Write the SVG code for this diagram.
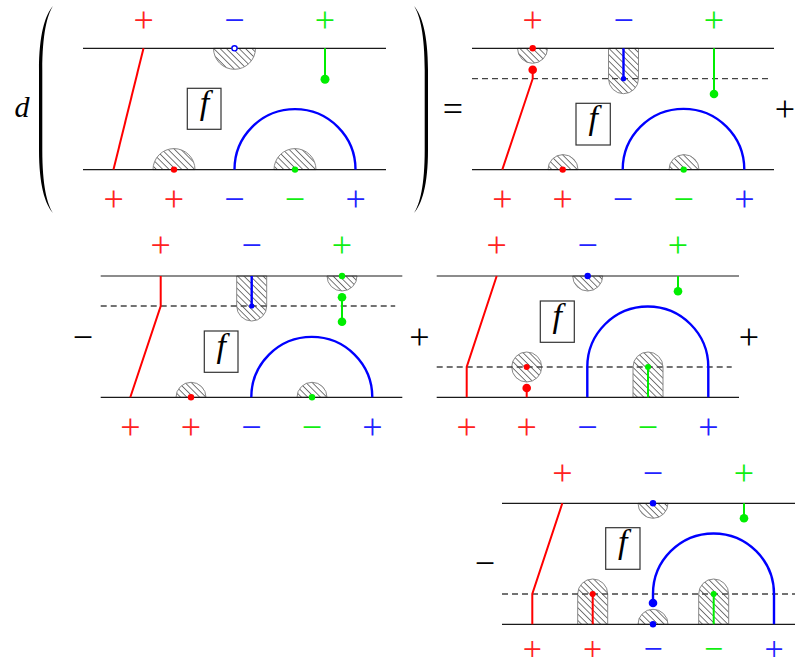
<svg xmlns="http://www.w3.org/2000/svg" width="795" height="668" viewBox="0 0 795 668">
<defs>
<pattern id="hatch" patternUnits="userSpaceOnUse" width="4.5" height="4.5" patternTransform="rotate(45)">
<rect width="4.5" height="4.5" fill="#fff"/>
<line x1="0" y1="2.25" x2="4.5" y2="2.25" stroke="#6a6a6a" stroke-width="0.9"/>
</pattern>
<style>
.hl{stroke:#1a1a1a;stroke-width:1.2;fill:none}
.dash{stroke:#444;stroke-width:1.3;stroke-dasharray:6 4;fill:none}
.h{fill:url(#hatch);stroke:#888;stroke-width:1}
.r{stroke:#f00;stroke-width:2;fill:none}
.b{stroke:#00f;stroke-width:2.4;fill:none}
.g{stroke:#0e0;stroke-width:2;fill:none}
.rd{fill:#f00}.bd{fill:#00f}.gd{fill:#0e0}
.box{fill:#fff;stroke:#333;stroke-width:1.2}
.lab{font-family:"Liberation Serif","Times New Roman",serif;font-size:36px;text-anchor:middle}
.sm{font-size:34px}
.fx{font-family:"Liberation Serif","Times New Roman",serif;font-style:italic;font-size:34px;text-anchor:middle}
.dx{font-family:"Liberation Serif","Times New Roman",serif;font-style:italic;font-size:30px;text-anchor:middle}
.lr{fill:#f22}.lb{fill:#22f}.lg{fill:#1e1}.lk{fill:#000}
</style>
</defs>
<rect width="795" height="668" fill="#fff"/>

<g id="prefix">
<text class="dx" x="22" y="117">d</text>
<path d="M53,6 C45,15 39,35 39,70 L39,150 C39,185 45,204 53,213 C47,204 42.3,185 42.3,150 L42.3,70 C42.3,35 47,15 53,6 Z" fill="#000"/>
<path d="M414,6 C422,15 428,35 428,70 L428,150 C428,185 422,204 414,213 C420,204 424.7,185 424.7,150 L424.7,70 C424.7,35 420,15 414,6 Z" fill="#000"/>
<text class="lab lk" x="453" y="121.4">=</text>
<text class="lab lk" x="785" y="121.4">+</text>
<text class="lab lk" x="83" y="349.1">−</text>
<text class="lab lk" x="419.5" y="349.1">+</text>
<text class="lab lk" x="749" y="349.1">+</text>
<text class="lab lk" x="485" y="575.4">−</text>
</g>

<!-- Panel 1 -->
<g id="panel1" transform="translate(83,48.3)">
<path class="h" d="M130.5,0 A21,21 0 0 0 172.5,0 Z"/>
<path class="h" d="M70,121.3 A21,21 0 0 1 112,121.3 Z"/>
<path class="h" d="M191,121.3 A21,21 0 0 1 233,121.3 Z"/>
<line class="hl" x1="0" y1="0" x2="303" y2="0"/>
<line class="hl" x1="0" y1="121.3" x2="303" y2="121.3"/>
<g id="p1-edges">
<line class="r" x1="60.5" y1="0" x2="30.5" y2="121.3"/>
<line class="g" x1="242" y1="0" x2="242" y2="31"/>
<path class="b" d="M151.5,121.3 A60.5,60.5 0 0 1 272.5,121.3"/>
</g>
<circle cx="151.5" cy="0" r="2.6" fill="#fff" stroke="#00f" stroke-width="1.4"/>
<circle class="gd" cx="242" cy="31" r="4.5"/>
<circle class="rd" cx="91" cy="121.3" r="3.2"/>
<circle class="gd" cx="212" cy="121.3" r="3.2"/>
<rect class="box" x="104.3" y="40" width="33.7" height="41"/>
<text class="fx" x="121.5" y="65.6">f</text>
<text class="lab lr" x="60.7" y="-16">+</text>
<text class="lab lb" x="151.3" y="-16">−</text>
<text class="lab lg" x="242" y="-16">+</text>
<text class="lab lr" x="30.7" y="163.1">+</text>
<text class="lab lr" x="91" y="163.1">+</text>
<text class="lab lb" x="151.3" y="163.1">−</text>
<text class="lab lg" x="212" y="163.1">−</text>
<text class="lab lb" x="272.7" y="163.1">+</text>
</g>

<!-- Panel 2 -->
<g id="panel2" transform="translate(472,48.3)">
<path class="h" d="M45.5,0 A15,15 0 0 0 75.5,0 Z"/>
<path class="h" d="M136.5,0 V30.4 A15,15 0 0 0 166.5,30.4 V0 Z"/>
<path class="h" d="M76,121.3 A15,15 0 0 1 106,121.3 Z"/>
<path class="h" d="M197,121.3 A15,15 0 0 1 227,121.3 Z"/>
<line class="hl" x1="0" y1="0" x2="302" y2="0"/>
<line class="hl" x1="0" y1="121.3" x2="302" y2="121.3"/>
<line class="dash" x1="0" y1="30.4" x2="296" y2="30.4"/>
<g id="p2-edges">
<polyline class="r" points="60.7,21.4 60.7,30.4 30.3,121.3"/>
<line class="b" x1="151.5" y1="0" x2="151.5" y2="30.4"/>
<line class="g" x1="242" y1="0" x2="242" y2="45.7"/>
<path class="b" d="M150.7,121.3 A60.8,60.8 0 0 1 272.3,121.3"/>
</g>
<circle class="rd" cx="60.7" cy="0" r="3.2"/>
<circle class="rd" cx="60.7" cy="21.4" r="4.3"/>
<circle class="bd" cx="151.5" cy="30.4" r="2.6"/>
<circle class="gd" cx="242" cy="45.7" r="4.3"/>
<circle class="rd" cx="90.7" cy="121.3" r="3.2"/>
<circle class="gd" cx="211.7" cy="121.3" r="3.2"/>
<rect class="box" x="104" y="55" width="34.3" height="41.7"/>
<text class="fx" x="121.2" y="80.6">f</text>
<text class="lab lr" x="60.7" y="-16">+</text>
<text class="lab lb" x="151.7" y="-16">−</text>
<text class="lab lg" x="242" y="-16">+</text>
<text class="lab lr" x="30.3" y="163.1">+</text>
<text class="lab lr" x="90.7" y="163.1">+</text>
<text class="lab lb" x="151" y="163.1">−</text>
<text class="lab lg" x="211.7" y="163.1">−</text>
<text class="lab lb" x="272.3" y="163.1">+</text>
</g>

<!-- Panel 3 -->
<g id="panel3" transform="translate(100.7,276)">
<path class="h" d="M136,0 V30 A15,15 0 0 0 166,30 V0 Z"/>
<path class="h" d="M226.3,0 A15,15 0 0 0 256.3,0 Z"/>
<path class="h" d="M75.3,121.3 A15,15 0 0 1 105.3,121.3 Z"/>
<path class="h" d="M196.3,121.3 A15,15 0 0 1 226.3,121.3 Z"/>
<line class="hl" x1="0" y1="0" x2="301.6" y2="0"/>
<line class="hl" x1="0" y1="121.3" x2="301.6" y2="121.3"/>
<line class="dash" x1="0" y1="30" x2="294.5" y2="30"/>
<g id="p3-edges">
<polyline class="r" points="60,0 60,30 29.6,121.3"/>
<line class="b" x1="151" y1="0" x2="151" y2="30"/>
<line class="g" x1="241.3" y1="21.3" x2="241.3" y2="45.7"/>
<path class="b" d="M150.6,121.3 A60.5,60.5 0 0 1 271.6,121.3"/>
</g>
<circle class="bd" cx="151" cy="30" r="2.6"/>
<circle class="gd" cx="241.3" cy="0" r="3.2"/>
<circle class="gd" cx="241.3" cy="21.3" r="4.3"/>
<circle class="gd" cx="241.3" cy="45.7" r="4.3"/>
<circle class="rd" cx="90.3" cy="121.3" r="3.2"/>
<circle class="gd" cx="211.3" cy="121.3" r="3.2"/>
<rect class="box" x="103.6" y="55" width="33.7" height="41.3"/>
<text class="fx" x="120.5" y="80.6">f</text>
<text class="lab lr" x="60" y="-18.6">+</text>
<text class="lab lb" x="151" y="-18.6">−</text>
<text class="lab lg" x="241.3" y="-18.6">+</text>
<text class="lab lr" x="29.6" y="162.7">+</text>
<text class="lab lr" x="90.3" y="162.7">+</text>
<text class="lab lb" x="150.6" y="162.7">−</text>
<text class="lab lg" x="211.3" y="162.7">−</text>
<text class="lab lb" x="271.6" y="162.7">+</text>
</g>

<!-- Panel 4 -->
<g id="panel4" transform="translate(436.7,276)">
<path class="h" d="M136,0 A15,15 0 0 0 166,0 Z"/>
<circle class="h" cx="90" cy="91" r="15"/>
<path class="h" d="M196.3,121.3 V91 A15,15 0 0 1 226.3,91 V121.3 Z"/>
<line class="hl" x1="0" y1="0" x2="302.3" y2="0"/>
<line class="hl" x1="0" y1="121.3" x2="302.3" y2="121.3"/>
<line class="dash" x1="0" y1="91" x2="295" y2="91"/>
<g id="p4-edges">
<polyline class="r" points="60,0 30,91 30,121.3"/>
<line class="r" x1="90" y1="112" x2="90" y2="121.3"/>
<line class="g" x1="241.3" y1="0" x2="241.3" y2="15.3"/>
<path class="b" d="M150.6,121.3 V91 A60.5,60.5 0 0 1 271.6,91 V121.3"/>
<line class="g" x1="211.3" y1="91" x2="211.3" y2="121.3"/>
</g>
<circle class="rd" cx="90" cy="91" r="3"/>
<circle class="rd" cx="90" cy="112" r="4.3"/>
<circle class="bd" cx="151" cy="0" r="3.2"/>
<circle class="gd" cx="241.3" cy="15.3" r="4.3"/>
<circle class="gd" cx="211.3" cy="91" r="3"/>
<rect class="box" x="103.6" y="25" width="34" height="41.3"/>
<text class="fx" x="120.6" y="50.6">f</text>
<text class="lab lr" x="60" y="-18.6">+</text>
<text class="lab lb" x="151" y="-18.6">−</text>
<text class="lab lg" x="241.3" y="-18.6">+</text>
<text class="lab lr" x="30" y="162.7">+</text>
<text class="lab lr" x="90" y="162.7">+</text>
<text class="lab lb" x="150.6" y="162.7">−</text>
<text class="lab lg" x="211.3" y="162.7">−</text>
<text class="lab lb" x="271.6" y="162.7">+</text>
</g>

<!-- Panel 5 -->
<g id="panel5" transform="translate(502,503.3)">
<path class="h" d="M136,0 A15,15 0 0 0 166,0 Z"/>
<path class="h" d="M75.7,121 V90.7 A15,15 0 0 1 105.7,90.7 V121 Z"/>
<path class="h" d="M136,121 A15,15 0 0 1 166,121 Z"/>
<path class="h" d="M196.7,121 V90.7 A15,15 0 0 1 226.7,90.7 V121 Z"/>
<line class="hl" x1="0" y1="0" x2="300" y2="0"/>
<line class="hl" x1="0" y1="121" x2="300" y2="121"/>
<line class="dash" x1="0" y1="90.7" x2="300" y2="90.7"/>
<g id="p5-edges">
<polyline class="r" points="60.3,0 30.3,90.7 30.3,121"/>
<line class="r" x1="90.7" y1="90.7" x2="90.7" y2="121"/>
<line class="g" x1="242" y1="0" x2="242" y2="15"/>
<path class="b" d="M151,99.7 V90.7 A60.5,60.5 0 0 1 272,90.7 V121"/>
<line class="g" x1="211.7" y1="90.7" x2="211.7" y2="121"/>
</g>
<circle class="rd" cx="90.7" cy="90.7" r="3"/>
<circle class="bd" cx="151" cy="0" r="3.2"/>
<circle class="gd" cx="242" cy="15" r="4.3"/>
<circle class="bd" cx="151" cy="99.7" r="4.3"/>
<circle class="bd" cx="151" cy="121" r="3.2"/>
<circle class="gd" cx="211.7" cy="90.7" r="3"/>
<rect class="box" x="103.7" y="24.4" width="34.3" height="41.6"/>
<text class="fx" x="120.8" y="50">f</text>
<text class="lab lr" x="60.3" y="-18.6">+</text>
<text class="lab lb" x="151" y="-18.6">−</text>
<text class="lab lg" x="242" y="-18.6">+</text>
<text class="lab sm lr" x="30.3" y="157">+</text>
<text class="lab sm lr" x="90.7" y="157">+</text>
<text class="lab sm lb" x="151" y="157">−</text>
<text class="lab sm lg" x="211.7" y="157">−</text>
<text class="lab sm lb" x="272" y="157">+</text>
</g>
</svg>
